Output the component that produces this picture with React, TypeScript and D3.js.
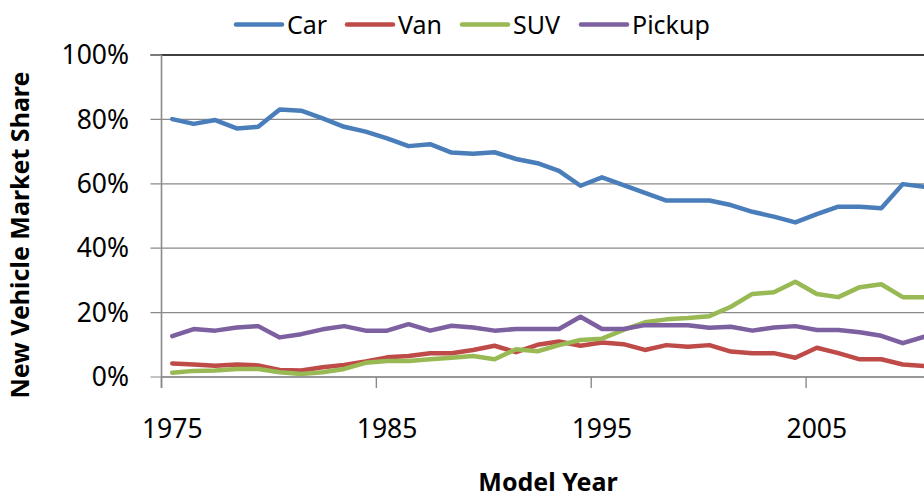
import { useEffect, useRef } from 'react';
import * as d3 from 'd3';

const years = d3.range(1975, 2011);

const car = [
  80.1, 78.6, 79.8, 77.2, 77.7, 83.1, 82.7, 80.3, 77.7, 76.2,
  74.1, 71.7, 72.3, 69.7, 69.3, 69.8, 67.7, 66.4, 64.0, 59.4,
  62.0, 59.6, 57.2, 54.8, 54.8, 54.8, 53.4, 51.3, 49.8, 48.0,
  50.6, 52.9, 52.9, 52.4, 59.9, 59.1,
];
const van = [
  4.2, 3.9, 3.5, 3.9, 3.6, 2.2, 2.0, 3.0, 3.7, 4.8,
  6.1, 6.5, 7.4, 7.4, 8.4, 9.7, 7.7, 10.0, 11.0, 9.7,
  10.7, 10.2, 8.4, 9.9, 9.4, 9.9, 7.9, 7.4, 7.4, 6.0,
  9.1, 7.4, 5.5, 5.5, 3.9, 3.4,
];
const suv = [
  1.3, 1.9, 2.0, 2.5, 2.5, 1.5, 0.9, 1.5, 2.5, 4.4,
  5.0, 5.0, 5.5, 6.0, 6.5, 5.5, 8.6, 8.0, 9.9, 11.5,
  11.9, 14.6, 17.0, 17.9, 18.3, 18.9, 21.8, 25.8, 26.3, 29.6,
  25.8, 24.8, 27.9, 28.8, 24.8, 24.8,
];
const pickup = [
  12.7, 14.9, 14.4, 15.4, 15.8, 12.3, 13.3, 14.8, 15.8, 14.4,
  14.4, 16.4, 14.4, 15.9, 15.4, 14.4, 14.9, 14.9, 14.9, 18.7,
  14.9, 14.9, 16.1, 16.1, 16.1, 15.3, 15.6, 14.4, 15.4, 15.8,
  14.6, 14.6, 13.9, 12.8, 10.5, 12.5,
];

const seriesNames = ['Car', 'Van', 'SUV', 'Pickup'];
const seriesColors = ['#4A7EBB', '#BE4B48', '#98B954', '#7D60A0'];
const yTicks = [0, 20, 40, 60, 80, 100];
const xLabelYears = [1975, 1985, 1995, 2005];

const FONT = '"Noto Sans", "Open Sans", sans-serif';

export default function App() {
  const svgRef = useRef<SVGSVGElement>(null);

  useEffect(() => {
    if (!svgRef.current) return;
    const svg = d3.select(svgRef.current);
    svg.selectAll('*').remove();

    const left = 161.5;
    const right = 935;
    const top = 55;
    const bottom = 377;

    const x = d3.scaleBand<number>().domain(years).range([left, right]).padding(0);
    const cx = (yr: number) => (x(yr) ?? 0) + x.bandwidth() / 2;
    const y = d3.scaleLinear().domain([0, 100]).range([bottom, top]);

    svg.append('rect').attr('width', 924).attr('height', 498).attr('fill', '#fff');

    // gridlines + y ticks
    const grid = svg.append('g');
    yTicks.forEach((t) => {
      grid.append('line')
        .attr('x1', left - 11).attr('x2', right)
        .attr('y1', y(t)).attr('y2', y(t))
        .attr('stroke', t === 100 ? '#000' : '#8a8a8a')
        .attr('stroke-width', t === 100 ? 1.6 : 1.2);
      if (t === 100) {
        grid.append('line')
          .attr('x1', left - 11).attr('x2', left)
          .attr('y1', y(t)).attr('y2', y(t))
          .attr('stroke', '#8a8a8a').attr('stroke-width', 1.6);
      }
      grid.append('text')
        .attr('x', 129)
        .attr('y', y(t))
        .attr('dy', '0.35em')
        .attr('text-anchor', 'end')
        .attr('font-family', FONT)
        .attr('font-size', 26.5)
        .attr('fill', '#000')
        .text(`${t}%`);
    });

    // y axis line
    svg.append('line')
      .attr('x1', left).attr('x2', left)
      .attr('y1', top).attr('y2', bottom + 11)
      .attr('stroke', '#8a8a8a').attr('stroke-width', 1.6);

    // x axis line and ticks
    svg.append('line')
      .attr('x1', left).attr('x2', right)
      .attr('y1', bottom).attr('y2', bottom)
      .attr('stroke', '#8a8a8a').attr('stroke-width', 1.6);

    xLabelYears.forEach((yr) => {
      const bx = x(yr) ?? 0;
      svg.append('line')
        .attr('x1', bx).attr('x2', bx)
        .attr('y1', bottom).attr('y2', bottom + 11)
        .attr('stroke', '#8a8a8a').attr('stroke-width', 1.4);
      svg.append('text')
        .attr('x', cx(yr))
        .attr('y', 438)
        .attr('text-anchor', 'middle')
        .attr('font-family', FONT)
        .attr('font-size', 26.5)
        .attr('fill', '#000')
        .text(String(yr));
    });

    // series
    const data = [car, van, suv, pickup];
    const line = d3.line<number>()
      .x((_, i) => cx(years[i]))
      .y((d) => y(d));

    data.forEach((vals, i) => {
      svg.append('path')
        .datum(vals)
        .attr('fill', 'none')
        .attr('stroke', seriesColors[i])
        .attr('stroke-width', 4.5)
        .attr('stroke-linejoin', 'round')
        .attr('stroke-linecap', 'round')
        .attr('d', line);
    });

    // legend
    const legendX = [236, 347, 462, 581];
    seriesNames.forEach((name, i) => {
      const lx = legendX[i];
      svg.append('line')
        .attr('x1', lx).attr('x2', lx + 46)
        .attr('y1', 24.5).attr('y2', 24.5)
        .attr('stroke', seriesColors[i])
        .attr('stroke-width', 4.5)
        .attr('stroke-linecap', 'round');
      svg.append('text')
        .attr('x', lx + 51)
        .attr('y', 34)
        .attr('font-family', FONT)
        .attr('font-size', 25)
        .attr('fill', '#000')
        .text(name);
    });

    // axis titles
    svg.append('text')
      .attr('x', 548)
      .attr('y', 491)
      .attr('text-anchor', 'middle')
      .attr('font-family', FONT)
      .attr('font-weight', 'bold')
      .attr('font-size', 25)
      .attr('fill', '#000')
      .text('Model Year');

    svg.append('text')
      .attr('transform', 'translate(29,235) rotate(-90)')
      .attr('text-anchor', 'middle')
      .attr('font-family', FONT)
      .attr('font-weight', 'bold')
      .attr('font-size', 25)
      .attr('fill', '#000')
      .text('New Vehicle Market Share');
  }, []);

  return (
    <svg
      ref={svgRef}
      width={924}
      height={498}
      style={{ position: 'absolute', left: 0, top: 0, display: 'block' }}
    />
  );
}
